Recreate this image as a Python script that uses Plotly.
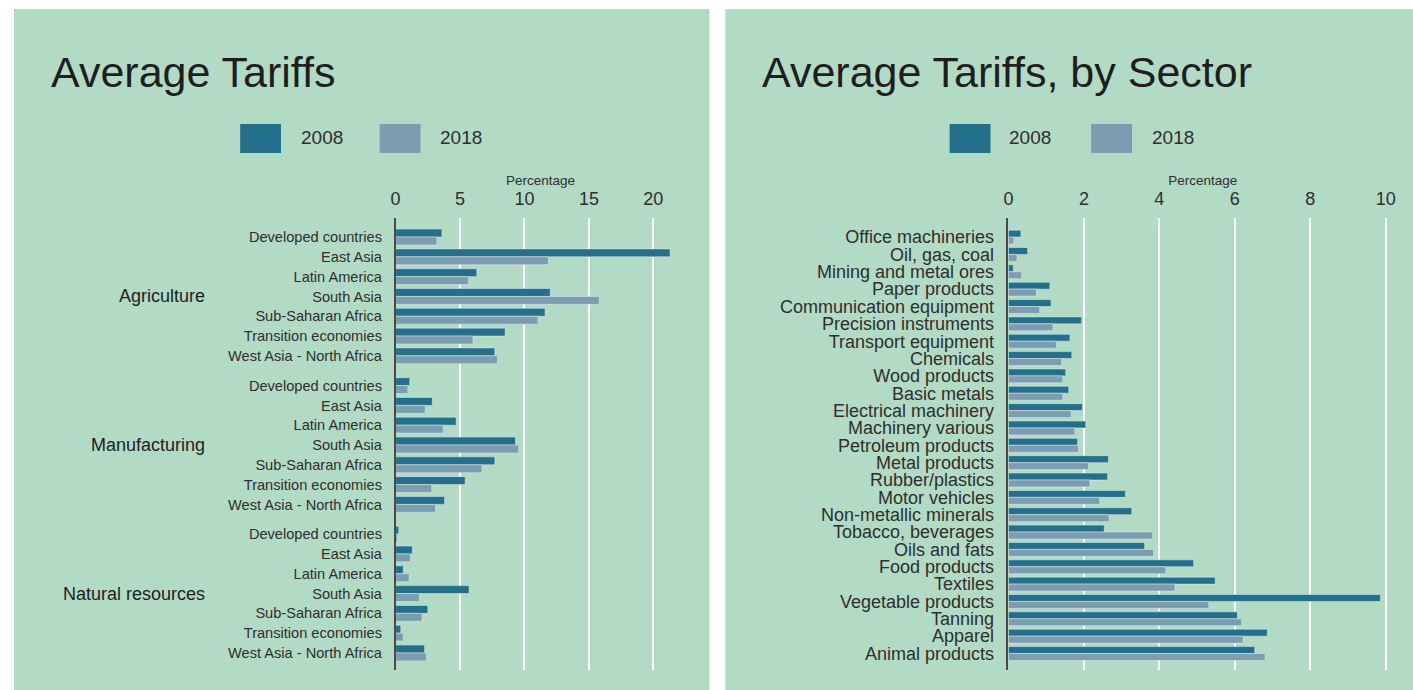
import plotly.graph_objects as go

# ---------------- data ----------------
groups = ["Agriculture", "Manufacturing", "Natural resources"]
regions = ["Developed countries", "East Asia", "Latin America", "South Asia",
           "Sub-Saharan Africa", "Transition economies", "West Asia - North Africa"]

agri_2008 = [3.6, 21.3, 6.3, 12.0, 11.6, 8.5, 7.7]
agri_2018 = [3.2, 11.85, 5.65, 15.8, 11.05, 6.0, 7.9]
manu_2008 = [1.1, 2.85, 4.7, 9.3, 7.7, 5.4, 3.8]
manu_2018 = [0.95, 2.3, 3.7, 9.55, 6.7, 2.8, 3.1]
natr_2008 = [0.25, 1.3, 0.6, 5.7, 2.5, 0.4, 2.25]
natr_2018 = [0.15, 1.15, 1.05, 1.85, 2.05, 0.6, 2.4]

sectors = ["Office machineries", "Oil, gas, coal", "Mining and metal ores", "Paper products",
           "Communication equipment", "Precision instruments", "Transport equipment", "Chemicals",
           "Wood products", "Basic metals", "Electrical machinery", "Machinery various",
           "Petroleum products", "Metal products", "Rubber/plastics", "Motor vehicles",
           "Non-metallic minerals", "Tobacco, beverages", "Oils and fats", "Food products",
           "Textiles", "Vegetable products", "Tanning", "Apparel", "Animal products"]
sector_2008 = [0.33, 0.51, 0.13, 1.10, 1.13, 1.94, 1.63, 1.68, 1.52, 1.60, 1.96, 2.05, 1.83,
               2.65, 2.63, 3.10, 3.27, 2.54, 3.61, 4.91, 5.48, 9.86, 6.07, 6.86, 6.53]
sector_2018 = [0.14, 0.23, 0.35, 0.74, 0.83, 1.18, 1.27, 1.41, 1.44, 1.44, 1.66, 1.76, 1.86,
               2.12, 2.16, 2.42, 2.67, 3.82, 3.85, 4.17, 4.41, 5.31, 6.18, 6.22, 6.80]

years = ["2008", "2018"]
left_ticks = [0, 5, 10, 15, 20]
right_ticks = [0, 2, 4, 6, 8, 10]

# ---------------- style ----------------
W, H = 1413, 690
BG = "#b2dbc5"
C08 = "#23708a"
C18 = "#7b9cb1"
FONT = "Liberation Sans, Arial, sans-serif"
TXT = "#1e1e1e"
TICK = "#2e2e2e"


def X(px):
    return px / W


def Y(py):
    return 1 - py / H


GROUP_STEP = len(regions) + 0.5
left_vals_08 = [agri_2008, manu_2008, natr_2008]
left_vals_18 = [agri_2018, manu_2018, natr_2018]

pos, lab, v08, v18 = [], [], [], []
for g in range(len(groups)):
    for i, r in enumerate(regions):
        pos.append(g * GROUP_STEP + i)
        lab.append(r)
        v08.append(left_vals_08[g][i])
        v18.append(left_vals_18[g][i])

fig = go.Figure()
fig.add_trace(go.Bar(x=v08, y=pos, orientation="h", marker_color=C08, name=years[0],
                     xaxis="x", yaxis="y", showlegend=False))
fig.add_trace(go.Bar(x=v18, y=pos, orientation="h", marker_color=C18, name=years[1],
                     xaxis="x", yaxis="y", showlegend=False))
fig.add_trace(go.Bar(x=sector_2008, y=sectors, orientation="h", marker_color=C08, name=years[0],
                     xaxis="x2", yaxis="y2", showlegend=False))
fig.add_trace(go.Bar(x=sector_2018, y=sectors, orientation="h", marker_color=C18, name=years[1],
                     xaxis="x2", yaxis="y2", showlegend=False))

ydom = [Y(670), Y(218)]
xaxis_common = dict(
    side="top", showgrid=True, gridcolor="white", gridwidth=2, zeroline=False,
    showline=False, ticks="", ticklabelstandoff=8,
    tickfont=dict(family=FONT, size=18, color=TICK),
    title=dict(text="Percentage", font=dict(family=FONT, size=13.5, color=TICK), standoff=0),
)
yaxis_common = dict(
    showgrid=False, zeroline=False, showline=True, linecolor="#4a4a4a", linewidth=1.5,
    ticks="", ticklabelstandoff=9,
)

fig.update_layout(
    width=W, height=H,
    margin=dict(l=0, r=0, t=0, b=0),
    paper_bgcolor="white", plot_bgcolor=BG,
    barmode="group", bargap=0.2, bargroupgap=0.0,
    xaxis=dict(domain=[X(392), X(683)], range=[0, 22.5], tickvals=left_ticks,
               anchor="y", **xaxis_common),
    yaxis=dict(domain=ydom, range=[pos[-1] + 0.86, -0.96], tickvals=pos, ticktext=lab,
               tickfont=dict(family=FONT, size=14.6, color=TICK), anchor="x", **yaxis_common),
    xaxis2=dict(domain=[X(1007), X(1397)], range=[0, 10.3], tickvals=right_ticks,
                anchor="y2", **xaxis_common),
    yaxis2=dict(domain=ydom, range=[len(sectors) - 1 + 0.95, -1.1], type="category",
                categoryorder="array", categoryarray=sectors,
                tickmode="array", tickvals=sectors, ticktext=sectors,
                tickfont=dict(family=FONT, size=18, color=TICK), anchor="x2", **yaxis_common),
)

shapes = [
    dict(type="rect", xref="paper", yref="paper", x0=X(9), x1=X(707), y0=0, y1=Y(9),
         fillcolor=BG, line_width=0, layer="below"),
    dict(type="rect", xref="paper", yref="paper", x0=X(723), x1=1, y0=0, y1=Y(9),
         fillcolor=BG, line_width=0, layer="below"),
]
annotations = []

# titles
for txt, x0 in [("Average Tariffs", 44), ("Average Tariffs, by Sector", 758)]:
    annotations.append(dict(text=txt, xref="paper", yref="paper", x=X(x0), y=Y(72),
                            xanchor="left", yanchor="middle", showarrow=False,
                            font=dict(family=FONT, size=43, color=TXT)))

# legends (drawn swatches)
for sw1, t1, sw2, t2 in [(236, 295, 376, 435), (948, 1006, 1090, 1149)]:
    for sx, tx, col, yr in [(sw1, t1, C08, years[0]), (sw2, t2, C18, years[1])]:
        shapes.append(dict(type="rect", xref="paper", yref="paper", x0=X(sx), x1=X(sx + 41),
                           y0=Y(153), y1=Y(124), fillcolor=col, line_width=0))
        annotations.append(dict(text=yr, xref="paper", yref="paper", x=X(tx), y=Y(138),
                                xanchor="left", yanchor="middle", showarrow=False,
                                font=dict(family=FONT, size=19, color=TICK)))

# facet (group) labels
for g, name in enumerate(groups):
    annotations.append(dict(text=name, xref="paper", yref="y", x=X(203),
                            y=g * GROUP_STEP + (len(regions) - 1) / 2,
                            xanchor="right", yanchor="middle", showarrow=False,
                            font=dict(family=FONT, size=18, color=TXT)))

fig.update_layout(shapes=shapes, annotations=annotations)
fig.write_html("out.html", config={"displayModeBar": False},
               post_script="document.body.style.margin='0px';")
